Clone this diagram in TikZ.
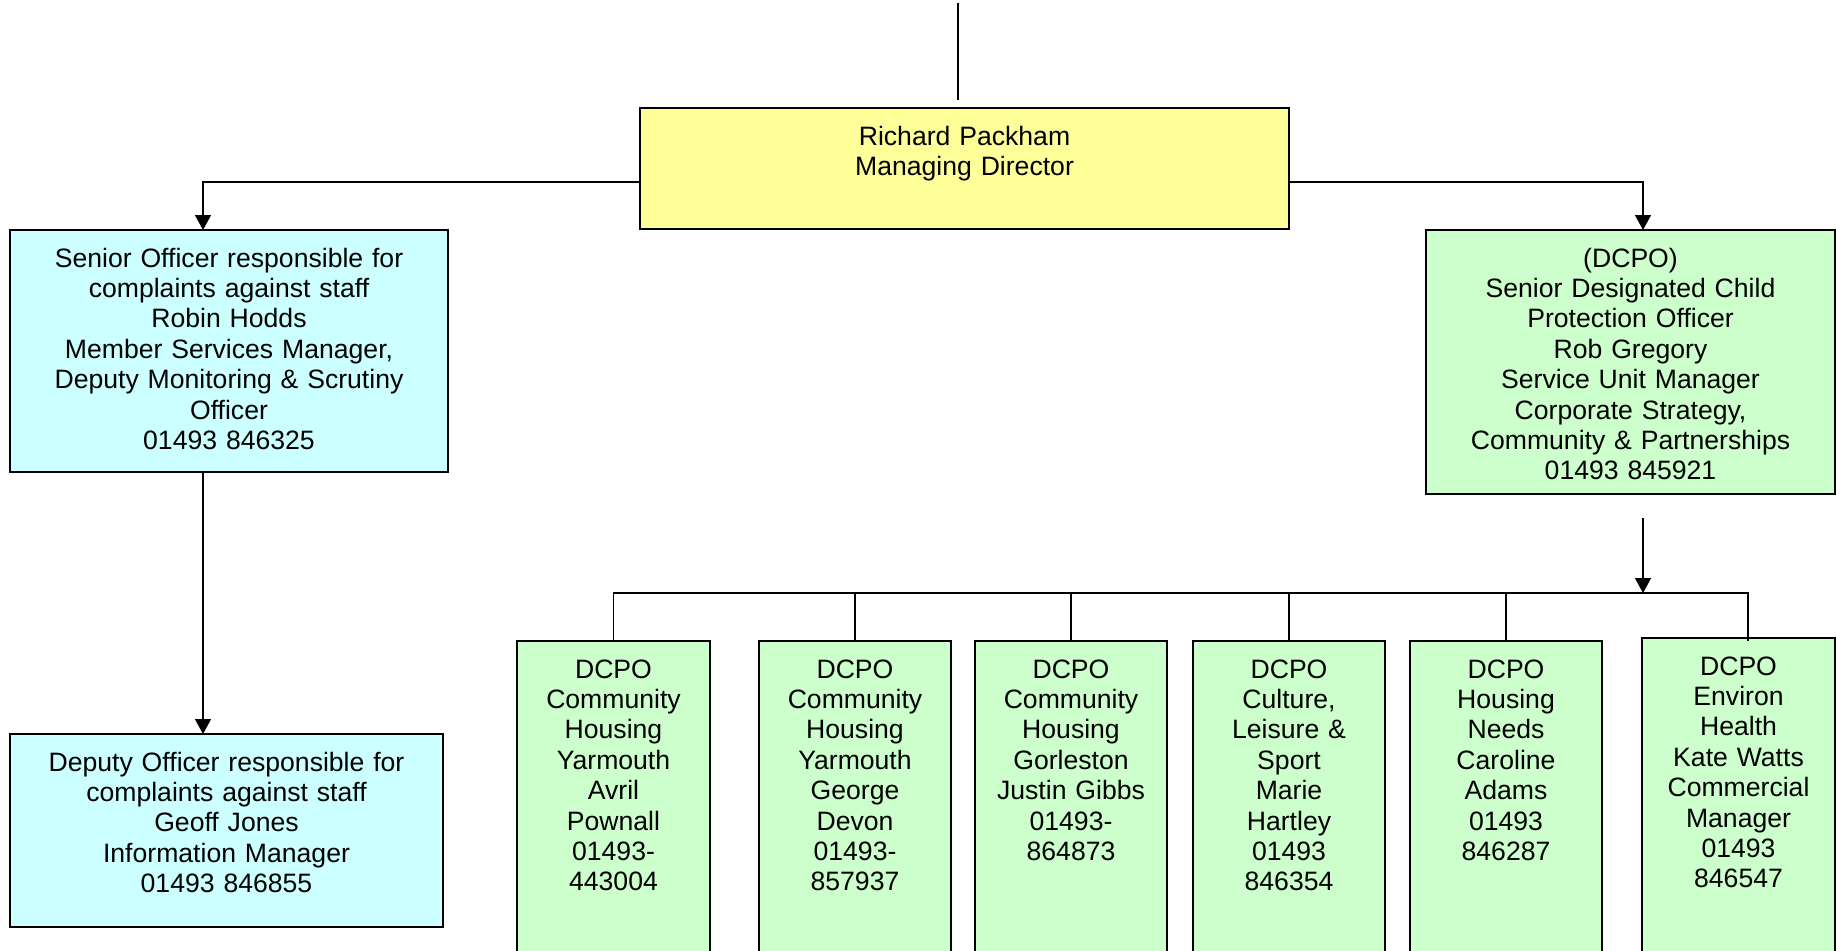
\documentclass[tikz,border=0pt]{standalone}
\usepackage{fontspec}
\setmainfont{Liberation Sans}
\usepackage{tikz}
\usetikzlibrary{arrows.meta}
\usetikzlibrary{positioning}
\definecolor{mdyellow}{HTML}{FFFF99}
\definecolor{staffcyan}{HTML}{CCFFFF}
\definecolor{dcpogreen}{HTML}{CCFFCC}
\tikzset{post node/.style={rectangle,draw,line width=1pt,inner xsep=2pt,inner ysep=9pt,outer sep=0pt,text height=9.5pt,align=center,font=\fontsize{13.3}{15.2}\selectfont}}
\tikzset{link/.style={line width=0.75pt}}
\tikzset{arrow link/.style={link,-{Triangle[width=8pt,length=7.5pt]}}}

\begin{document}
\begin{tikzpicture}[x=0.5pt,y=-0.5pt]
    \useasboundingbox (0,0) rectangle (1836,950);

    	\node[post node,fill=mdyellow,text width=320.5pt,text depth=33pt,anchor=north] (md) at (964.5,108) {Richard Packham\\Managing Director};
    	\node[post node,fill=staffcyan,text width=215pt,text depth=93.5pt,anchor=north] (soc) at (229,230) {Senior Officer responsible for\\complaints against staff\\Robin Hodds\\Member Services Manager,\\Deputy Monitoring \& Scrutiny\\Officer\\01493 846325};
    	\node[post node,fill=staffcyan,text width=212.5pt,text depth=69pt] (doc) [below = 131pt of soc, xshift=-1.25pt] {Deputy Officer responsible for\\complaints against staff\\Geoff Jones\\Information Manager\\01493 846855};
    	\node[post node,fill=dcpogreen,text width=200.5pt,text depth=104.5pt,anchor=north] (sdcpo) at (1630.5,230) {(DCPO)\\Senior Designated Child\\Protection Officer\\Rob Gregory\\Service Unit Manager\\Corporate Strategy,\\Community \& Partnerships\\01493 845921};

    	\node[post node,fill=dcpogreen,text width=92.5pt,text depth=142pt,anchor=north] (d_{1}) at (613.5,641) {DCPO\\Community\\Housing\\Yarmouth\\Avril\\Pownall\\01493-\\443004};
    	\node[post node,fill=dcpogreen,text width=92pt,text depth=142pt] (d_{2}) [right = 24.5pt of d_{1}] {DCPO\\Community\\Housing\\Yarmouth\\George\\Devon\\01493-\\857937};
    	\node[post node,fill=dcpogreen,text width=92pt,text depth=142pt] (d_{3}) [right = 12pt of d_{2}] {DCPO\\Community\\Housing\\Gorleston\\Justin Gibbs\\01493-\\864873};
    	\node[post node,fill=dcpogreen,text width=92pt,text depth=142pt] (d_{4}) [right = 13pt of d_{3}] {DCPO\\Culture,\\Leisure \&\\Sport\\Marie\\Hartley\\01493\\846354};
    	\node[post node,fill=dcpogreen,text width=92pt,text depth=142pt] (d_{5}) [right = 12.5pt of d_{4}] {DCPO\\Housing\\Needs\\Caroline\\Adams\\01493\\846287};
    	\node[post node,fill=dcpogreen,text width=92.5pt,text depth=142pt] (d_{6}) [right = 20pt of d_{5}, yshift=1.5pt] {DCPO\\Environ\\Health\\Kate Watts\\Commercial\\Manager\\01493\\846547};

    	% line coming in from above
    	\coordinate (in_{a}) at (958,3);
    	\coordinate (in_{b}) at (958,100);
    	\draw[link] (in_{a}) -- (in_{b});

    	% branches off the managing director
    	\draw[arrow link] ([yshift=-6.75pt]md.west) -| ([xshift=-13pt]soc.north);
    	\draw[arrow link] ([yshift=-6.75pt]md.east) -| ([xshift=6.25pt]sdcpo.north);
    	\draw[arrow link] ([xshift=-13pt]soc.south) -- ([xshift=-13pt]soc.south |- doc.north);

    	% DCPO bus
    	\coordinate (ar) at ([xshift=6.25pt,yshift=-12pt]sdcpo.south);
    	\coordinate (bus) at (1643,593);
    	\draw[arrow link] (ar) -- (bus);
    	\draw[link] (d_{1}.north) |- ([xshift=4.75pt]d_{6}.north |- bus) -- ([xshift=4.75pt,yshift=-1.5pt]d_{6}.north);
    	\foreach \i in {2,...,5}
    	    \draw[link] (d_{\i}.north) -- (d_{\i}.north |- bus);

    \end{tikzpicture}
\end{document}
